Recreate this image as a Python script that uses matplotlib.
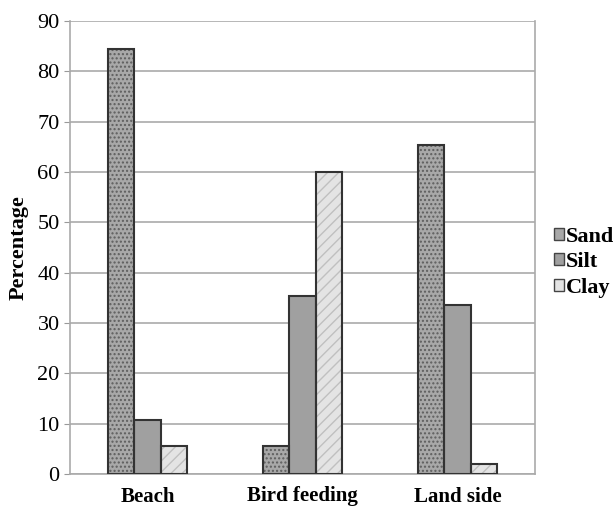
import numpy as np
import matplotlib.pyplot as plt

sites = ["Beach", "Bird feeding", "Land side"]
sand = [84.5, 5.5, 65.3]
silt = [10.7, 35.3, 33.5]
clay = [5.5, 60.0, 2.0]

plt.rcParams['font.family'] = ['Liberation Serif', 'DejaVu Serif']

fig = plt.figure(figsize=(6.14, 5.07), dpi=100)
ax = fig.add_axes([70/614, 33/507, 465/614, 453/507])

x = np.arange(len(sites))
w = 0.17
series = [("Sand", sand, "#a8a8a8", "#5e5e5e", "...."),
          ("Silt", silt, "#a0a0a0", "#a0a0a0", ""),
          ("Clay", clay, "#e4e4e4", "#c0c0c0", "///")]
handles = []
for i, (name, vals, fc, hc, hatch) in enumerate(series):
    pos = x + (i - 1) * w
    ax.bar(pos, vals, w, color=fc, edgecolor=hc, hatch=hatch, linewidth=0, zorder=2)
    ax.bar(pos, vals, w, fill=False, edgecolor="#333333", linewidth=1.5, zorder=3)
    handles.append(plt.Rectangle((0, 0), 1, 1, facecolor=fc, edgecolor="#444444",
                                 linewidth=1))

ax.set_ylim(0, 90)
ax.set_xlim(-0.5, 2.5)
ax.set_yticks(range(0, 91, 10))
ax.set_xticks(x)
ax.set_xticklabels(sites, fontweight="bold", fontsize=15)
ax.tick_params(axis="y", labelsize=16, length=4, color="#999999")
ax.tick_params(axis="x", length=0, pad=9)
ax.grid(axis="y", color="#aaaaaa", linewidth=1.2, zorder=0)
ax.set_axisbelow(True)
for s in ax.spines.values():
    s.set_color("#aaaaaa")
    s.set_linewidth(1.2)
ax.spines["top"].set_visible(False)

ax.set_ylabel("Percentage", fontweight="bold", fontsize=16, labelpad=6)

fig.legend(handles, [s[0] for s in series], loc="center left",
           bbox_to_anchor=(554/614, 0.483), frameon=False,
           prop={"weight": "bold", "size": 16}, handlelength=0.45,
           handleheight=0.45, handletextpad=0.1, labelspacing=0.25,
           borderpad=0, borderaxespad=0)

fig.savefig("out.png", dpi=100)
